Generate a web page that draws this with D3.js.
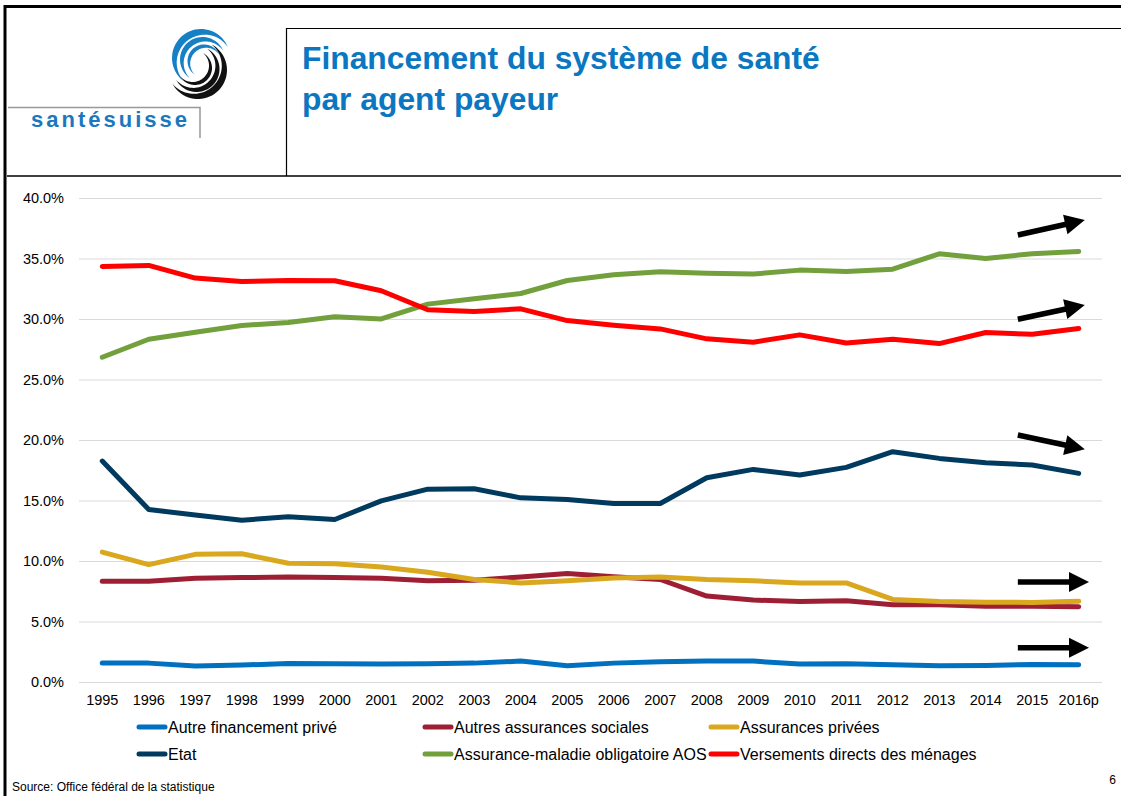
<!DOCTYPE html>
<html>
<head>
<meta charset="utf-8">
<script src="https://cdn.jsdelivr.net/npm/d3@7"></script>
<style>
  body { margin: 0; background: #fff; }
  svg { display: block; font-family: Arial, "Liberation Sans", sans-serif; }
</style>
</head>
<body>
<div id="chart-area"></div>
<script>
// data, shares in %
var years = ["1995", "1996", "1997", "1998", "1999", "2000", "2001", "2002", "2003", "2004", "2005",
             "2006", "2007", "2008", "2009", "2010", "2011", "2012", "2013", "2014", "2015", "2016p"];
var yTicks = [0, 5, 10, 15, 20, 25, 30, 35, 40];

var autreFinancementPrive = [1.56, 1.56, 1.32, 1.40, 1.53, 1.51, 1.48, 1.51, 1.56, 1.73, 1.34,
                             1.56, 1.67, 1.73, 1.73, 1.48, 1.51, 1.42, 1.34, 1.37, 1.45, 1.42];
var autresAssurancesSociales = [8.33, 8.33, 8.58, 8.63, 8.68, 8.63, 8.58, 8.36, 8.41, 8.68, 8.96,
                                8.70, 8.47, 7.10, 6.77, 6.66, 6.71, 6.38, 6.38, 6.27, 6.27, 6.22];
var assurancesPrivees = [10.74, 9.70, 10.55, 10.60, 9.81, 9.78, 9.51, 9.07, 8.47, 8.19, 8.36,
                         8.60, 8.68, 8.47, 8.36, 8.19, 8.19, 6.82, 6.66, 6.60, 6.58, 6.68];
var etat = [18.26, 14.25, 13.81, 13.37, 13.65, 13.43, 14.97, 15.94, 15.97, 15.22, 15.08,
            14.75, 14.75, 16.88, 17.57, 17.10, 17.74, 19.03, 18.48, 18.12, 17.93, 17.24];
var assuranceMaladieAOS = [26.84, 28.33, 28.91, 29.46, 29.71, 30.18, 30.01, 31.23, 31.67, 32.11, 33.18,
                           33.65, 33.90, 33.79, 33.71, 34.04, 33.93, 34.12, 35.39, 35.00, 35.40, 35.58];
var versementsMenages = [34.34, 34.43, 33.38, 33.10, 33.18, 33.16, 32.33, 30.76, 30.62, 30.84, 29.87,
                         29.49, 29.18, 28.36, 28.08, 28.69, 28.02, 28.33, 27.97, 28.88, 28.74, 29.21];

var seriesNames = ["Autre financement privé", "Autres assurances sociales", "Assurances privées",
                   "Etat", "Assurance-maladie obligatoire AOS", "Versements directs des ménages"];
var seriesValues = [autreFinancementPrive, autresAssurancesSociales, assurancesPrivees,
                    etat, assuranceMaladieAOS, versementsMenages];
var seriesColors = ["#0070C0", "#9E1F34", "#D9A81E", "#003A5E", "#72A03C", "#FF0000"];

// trend arrows: [year index, %] tail -> tip
var arrows = [
    [19.69, 36.94, 21.13, 38.18],
    [19.69, 29.98, 21.13, 31.16],
    [19.69, 20.41, 21.13, 19.23],
    [19.69, 8.26, 21.22, 8.26],
    [19.69, 2.83, 21.22, 2.83]
];

var W = 1121, H = 796;
var svg = d3.select("#chart-area").append("svg")
    .attr("width", W)
    .attr("height", H);

// ---- header frame
svg.append("line").attr("x1", 4).attr("x2", W).attr("y1", 6.5).attr("y2", 6.5)
    .attr("stroke", "#000").attr("stroke-width", 3);
svg.append("line").attr("x1", 5).attr("x2", 5).attr("y1", 5).attr("y2", H)
    .attr("stroke", "#000").attr("stroke-width", 3);
svg.append("line").attr("x1", 7).attr("x2", W).attr("y1", 176).attr("y2", 176)
    .attr("stroke", "#000").attr("stroke-width", 1.5);
svg.append("line").attr("x1", 286).attr("x2", W).attr("y1", 28.5).attr("y2", 28.5)
    .attr("stroke", "#000").attr("stroke-width", 1.2);
svg.append("line").attr("x1", 286.5).attr("x2", 286.5).attr("y1", 28).attr("y2", 176)
    .attr("stroke", "#000").attr("stroke-width", 1.2);

var title = svg.append("text")
    .attr("x", 302)
    .attr("fill", "#0A77C0")
    .attr("font-weight", "bold")
    .attr("font-size", "31.8px");
title.append("tspan").attr("x", 302).attr("y", 69).text("Financement du système de santé");
title.append("tspan").attr("x", 302).attr("y", 110).text("par agent payeur");

// ---- logo
var logo = svg.append("g");
logo.append("path")
    .attr("d", "M8,107.5 H200 V138")
    .attr("fill", "none").attr("stroke", "#999").attr("stroke-width", 1.5);
logo.append("text")
    .attr("x", 31).attr("y", 127)
    .attr("fill", "#1B78BE")
    .attr("font-weight", "bold")
    .attr("font-size", "22px")
    .attr("letter-spacing", "3px")
    .text("santésuisse");

function crescent(cx, cy, r, a0, a1, thick) {
    var pts = [], n = 40, i, t, a;
    for (i = 0; i <= n; i++) {
        a = a0 + (a1 - a0) * i / n;
        pts.push([cx + r * Math.cos(a), cy + r * Math.sin(a)]);
    }
    for (i = n; i >= 0; i--) {
        t = i / n;
        a = a0 + (a1 - a0) * t;
        var rr = r - thick * Math.sin(Math.PI * t);
        pts.push([cx + rr * Math.cos(a), cy + rr * Math.sin(a)]);
    }
    return "M" + pts.map(function(p) { return p[0].toFixed(2) + "," + p[1].toFixed(2); }).join("L") + "Z";
}
var deg = Math.PI / 180;
[[29, 7], [22.5, 5.5], [16.5, 4]].forEach(function(c, i) {
    logo.append("path")
        .attr("d", crescent(201 + i * 1.5, 58 + i * 1.5, c[0], -22 * deg, -235 * deg, c[1]))
        .attr("fill", "#1580C6");
});
[[29, 7], [23, 5.5], [17, 4]].forEach(function(c, i) {
    logo.append("path")
        .attr("d", crescent(198 - i * 1.5, 70 - i * 1, c[0], 152 * deg, -62 * deg, c[1]))
        .attr("fill", "#111");
});

// ---- chart
var x = d3.scaleBand()
    .domain(years)
    .range([79, 1102]);
var xc = function(i) { return x(years[i]) + x.bandwidth() / 2; };
var xi = d3.scaleLinear().domain([0, years.length - 1]).range([xc(0), xc(years.length - 1)]);

var y = d3.scaleLinear()
    .domain([0, 40])
    .range([682, 198]);

var yAxis = d3.axisLeft(y)
    .tickValues(yTicks)
    .tickSize(-(1102 - 79))
    .tickPadding(15)
    .tickFormat(function(d) { return d.toFixed(1) + "%"; });

var gy = svg.append("g")
    .attr("transform", "translate(79,0)")
    .call(yAxis);
gy.select(".domain").remove();
gy.selectAll("line").attr("stroke", "#D9D9D9").attr("stroke-width", 1.2);
gy.selectAll("text").attr("fill", "#000").attr("font-size", "14.5px")
    .attr("font-family", "Arial, 'Liberation Sans', sans-serif");

var xAxis = d3.axisBottom(x).tickSize(0).tickPadding(13);
var gx = svg.append("g")
    .attr("transform", "translate(0,682)")
    .call(xAxis);
gx.select(".domain").remove();
gx.selectAll("text").attr("fill", "#000").attr("font-size", "14.5px")
    .attr("font-family", "Arial, 'Liberation Sans', sans-serif");

var line = d3.line()
    .x(function(d, i) { return xc(i); })
    .y(function(d) { return y(d); });

svg.append("g").selectAll("path")
    .data(seriesValues)
    .enter().append("path")
    .attr("d", line)
    .attr("fill", "none")
    .attr("stroke", function(d, i) { return seriesColors[i]; })
    .attr("stroke-width", 5)
    .attr("stroke-linejoin", "round")
    .attr("stroke-linecap", "round");

// ---- trend arrows
arrows.forEach(function(a) {
    var x0 = xi(a[0]), y0 = y(a[1]), x1 = xi(a[2]), y1 = y(a[3]);
    var len = Math.hypot(x1 - x0, y1 - y0);
    var ux = (x1 - x0) / len, uy = (y1 - y0) / len;
    var hl = 20, hw = 10;
    svg.append("line")
        .attr("x1", x0).attr("y1", y0)
        .attr("x2", x1 - ux * (hl - 2)).attr("y2", y1 - uy * (hl - 2))
        .attr("stroke", "#000").attr("stroke-width", 5.5);
    var bx = x1 - ux * hl, by = y1 - uy * hl;
    svg.append("path")
        .attr("d", "M" + x1 + "," + y1 +
            "L" + (bx - uy * hw) + "," + (by + ux * hw) +
            "L" + (bx + uy * hw) + "," + (by - ux * hw) + "Z")
        .attr("fill", "#000");
});

// ---- legend
var legendPos = [[137, 727], [423, 727], [709, 727], [137, 754], [423, 754], [709, 754]];
var legend = svg.append("g").selectAll("g")
    .data(seriesNames)
    .enter().append("g")
    .attr("transform", function(d, i) { return "translate(" + legendPos[i][0] + "," + legendPos[i][1] + ")"; });
legend.append("line")
    .attr("x1", 2).attr("x2", 28)
    .attr("stroke", function(d, i) { return seriesColors[i]; })
    .attr("stroke-width", 5)
    .attr("stroke-linecap", "round");
legend.append("text")
    .attr("x", 31)
    .attr("y", 5.8)
    .attr("font-size", "16px")
    .attr("fill", "#000")
    .text(function(d) { return d; });

// ---- footer
svg.append("text")
    .attr("x", 12).attr("y", 791)
    .attr("font-size", "12px")
    .attr("fill", "#000")
    .text("Source: Office fédéral de la statistique");
svg.append("text")
    .attr("x", 1116).attr("y", 784)
    .attr("text-anchor", "end")
    .attr("font-size", "12px")
    .attr("fill", "#000")
    .text("6");
</script>
</body>
</html>
